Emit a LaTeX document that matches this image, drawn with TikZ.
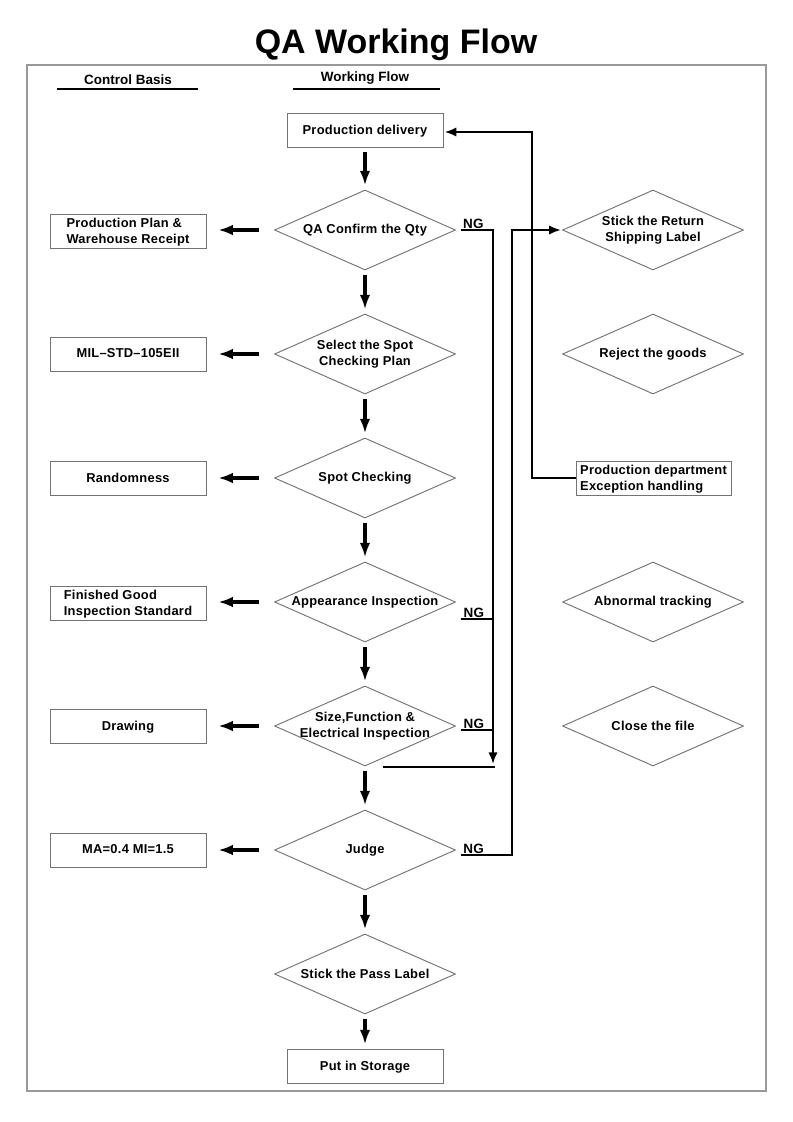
\documentclass[tikz,border=0pt]{standalone}
\usepackage{fontspec}
\setmainfont{Liberation Sans}[LetterSpace=2]
\newfontfamily\titlefont{Liberation Sans}
\usepackage{xcolor}
\usetikzlibrary{arrows.meta,shapes.geometric}
\definecolor{boxgray}{gray}{0.45}
\definecolor{framegray}{gray}{0.6}

\begin{document}
\begin{tikzpicture}[x=0.03cm, y=-0.03cm,
    flowbox/.style={draw=boxgray, line width=0.8pt, minimum width=4.68cm, minimum height=1.02cm, inner sep=2pt, text depth=1pt, align=left, font=\fontsize{11}{13.6}\selectfont\bfseries},
    flowdia/.style={diamond, draw=boxgray, line width=0.8pt, aspect=2.26, inner sep=-3pt, minimum width=5.43cm, minimum height=2.4cm, align=center, font=\fontsize{11}{13.6}\selectfont\bfseries},
    bigarrow/.style={line width=2.7pt, -{Latex[length=12.5pt,width=9pt]}, shorten <=4pt, shorten >=3.5pt},
    ngline/.style={line width=1.9pt},
    ngarrow/.style={ngline, -{Latex[length=10pt,width=8pt]}},
    nglabel/.style={anchor=south west, inner sep=1pt, font=\fontsize{11.5}{13}\selectfont\bfseries}]
  \useasboundingbox (0,0) rectangle (793,1122);
  \draw[framegray, line width=1.2pt] (27,65) rectangle (766,1091);
  \node[font=\titlefont\fontsize{29}{34}\selectfont\bfseries] (title) at (396,45) {QA Working Flow};
  \node[font=\titlefont\fontsize{11.5}{13}\selectfont\bfseries] (hbasis) at (128,80) {Control Basis};
  \node[font=\titlefont\fontsize{11.5}{13}\selectfont\bfseries] (hflow) at (365,78) {Working Flow};
  \draw[line width=1.8pt] (57,89) -- (198,89);
  \draw[line width=1.8pt] (293,89) -- (440,89);
  % working flow
  \node[flowbox, align=center] (deliv) at (365,130) {Production delivery};
  \node[flowdia] (qty) at (365,230) {QA Confirm the Qty};
  \node[flowdia] (plan) at (365,354) {Select the Spot\\Checking Plan};
  \node[flowdia] (spot) at (365,478) {Spot Checking};
  \node[flowdia] (appear) at (365,602) {Appearance Inspection};
  \node[flowdia] (size) at (365,726) {Size,Function \&\\Electrical Inspection};
  \node[flowdia] (judge) at (365,850) {Judge};
  \node[flowdia] (pass) at (365,974) {Stick the Pass Label};
  \node[flowbox, align=center] (store) at (365,1066) {Put in Storage};
  % control basis
  \node[flowbox] (b1) at (128,231) {Production Plan \&\\Warehouse Receipt};
  \node[flowbox] (b2) at (128,354) {MIL--STD--105EII};
  \node[flowbox] (b3) at (128,478) {Randomness};
  \node[flowbox] (b4) at (128,603) {Finished Good\\Inspection Standard};
  \node[flowbox] (b5) at (128,726) {Drawing};
  \node[flowbox] (b6) at (128,850) {MA=0.4 MI=1.5};
  % exception handling
  \node[flowdia] (ret) at (653,230) {Stick the Return\\Shipping Label};
  \node[flowdia] (reject) at (653,354) {Reject the goods};
  \node[flowbox, minimum width=4.65cm] (exc) at (653.5,478) {Production department\\Exception handling};
  \node[flowdia] (track) at (653,602) {Abnormal tracking};
  \node[flowdia] (close) at (653,726) {Close the file};
  % arrows
  \foreach \a/\b in {deliv/qty, qty/plan, plan/spot, spot/appear, appear/size, size/judge, judge/pass, pass/store}
    \draw[bigarrow] (\a) -- (\b);
  \foreach \a/\b in {qty/b1, plan/b2, spot/b3, appear/b4, size/b5, judge/b6}
    \draw[bigarrow, shorten <=12.5pt, shorten >=10pt] (\a.west) -- (\a.west -| \b.east);
  % NG lines
  \coordinate (ngdown) at (493,764);
  \coordinate (barL) at (383,767);
  \coordinate (barR) at (495,767);
  \coordinate (jogB) at (512,230);
  \coordinate (jogC) at (532,132);
  \coordinate (ngA) at ([shift={(5,17)}]appear.east);
  \coordinate (ngS) at ([shift={(5,4)}]size.east);
  \draw[ngarrow] ([xshift=4pt]qty.east) -| (ngdown);
  \draw[ngline] (ngA) -- (ngA -| ngdown);
  \draw[ngline] (ngS) -- (ngS -| ngdown);
  \draw[ngline] (barL) -- (barR);
  \draw[ngarrow, shorten >=1pt] ([shift={(5,5)}]judge.east) -| (jogB) -- (ret.west);
  \draw[ngarrow, shorten >=1pt] (exc.west) -| (jogC) -- (jogC -| deliv.east);
  \node[nglabel] (ng1) at ([xshift=5pt]qty.east) {NG};
  \node[nglabel] (ng2) at ([xshift=1pt]ngA) {NG};
  \node[nglabel] (ng3) at ([xshift=1pt]ngS) {NG};
  \node[nglabel] (ng4) at ([shift={(6,5)}]judge.east) {NG};
\end{tikzpicture}
\end{document}
